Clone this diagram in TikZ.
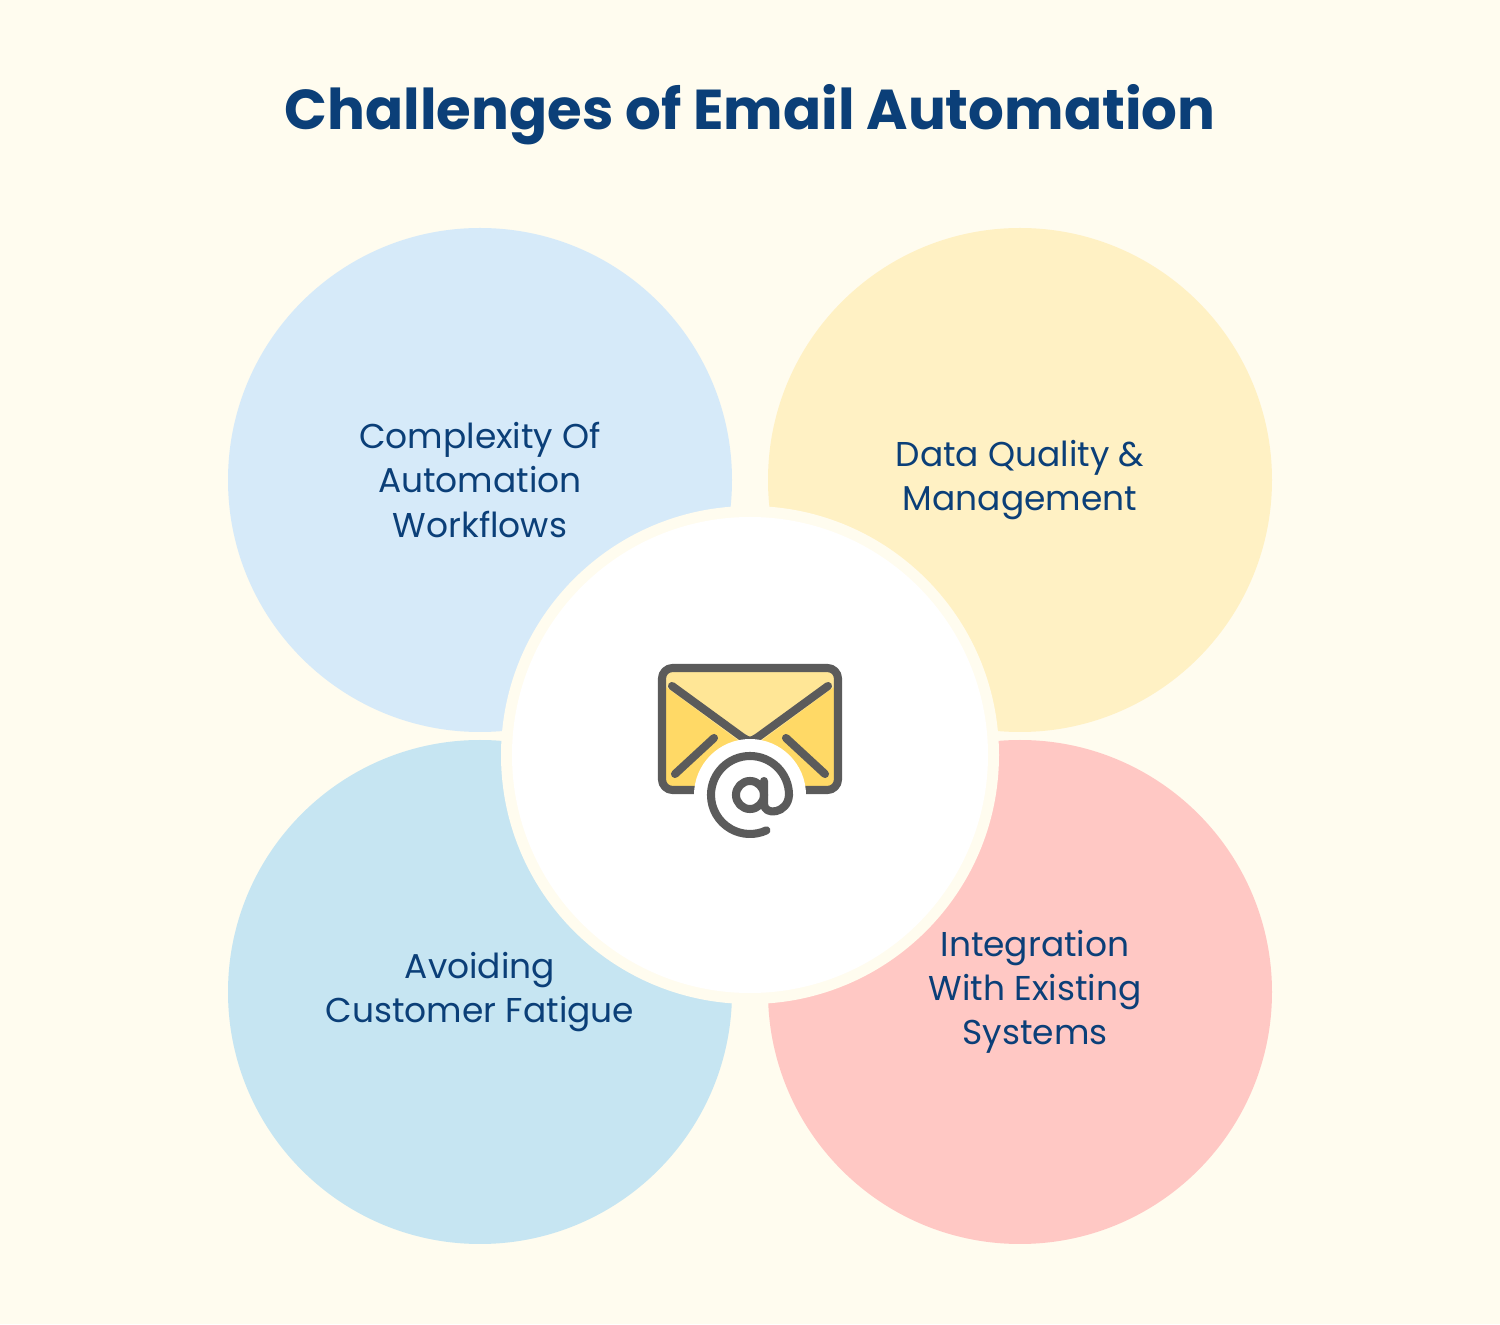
\documentclass[tikz,border=0pt]{standalone}
\usepackage{fontspec}
\setmainfont{Poppins}
\usepackage{xcolor}
\definecolor{bgcream}{HTML}{FFFCEF}
\definecolor{titleblue}{HTML}{0B3F78}
\definecolor{blueA}{HTML}{D6EAF9}
\definecolor{yellowA}{HTML}{FFF1C4}
\definecolor{blueB}{HTML}{C6E5F2}
\definecolor{redA}{HTML}{FFC8C4}
\definecolor{icongray}{HTML}{5B5B5B}
\definecolor{iconyellow}{HTML}{FFD966}
\definecolor{iconlight}{HTML}{FFE696}
\tikzset{
  petal/.style={circle,minimum size=5.04cm,inner sep=0pt},
  petaltext/.style={align=center,text=titleblue,font=\fontsize{9.8}{12.6}\selectfont},
  iconline/.style={draw=icongray,line width=2.3pt,line cap=round,line join=round}
}
\begin{document}
\begin{tikzpicture}
  \fill[bgcream] (0,0) rectangle (15,13.24);
  \useasboundingbox (0,0) rectangle (15,13.24);
  \node[font=\bfseries\fontsize{16}{18}\selectfont,text=titleblue] (title) at (7.5,12.09) {Challenges of Email Automation};
  % four petals
  \node[petal,fill=blueA] (tl) at (4.8,8.44) {};
  \node[petal,fill=yellowA] (tr) at (10.2,8.44) {};
  \node[petal,fill=blueB] (bl) at (4.8,3.32) {};
  \node[petal,fill=redA] (br) at (10.2,3.32) {};
  % centre
  \node[circle,fill=bgcream,minimum size=4.98cm,inner sep=0pt] (ring) at (7.5,5.69) {};
  \node[circle,fill=white,minimum size=4.76cm,inner sep=0pt] (hub) at (7.5,5.69) {};
  \node[petaltext] (tltext) at (4.8,8.44) {Complexity Of\\Automation\\Workflows};
  \node[petaltext] (trtext) at (10.2,8.44) {Data Quality \&\\Management};
  \node[petaltext] (bltext) at (4.8,3.32) {Avoiding\\Customer Fatigue};
  \node[petaltext] (brtext) at (10.35,3.32) {Integration\\With Existing\\Systems};
  % envelope icon
  \begin{scope}
    \clip[rounded corners=3pt] (6.62,5.34) rectangle (8.38,6.56);
    \fill[iconyellow] (6.62,5.34) rectangle (8.38,6.56);
    \fill[iconlight] (6.62,6.56) -- (6.62,6.40) -- (7.5,5.75) -- (8.38,6.40) -- (8.38,6.56) -- cycle;
  \end{scope}
  \draw[iconline,rounded corners=3pt] (6.62,5.34) rectangle (8.38,6.56);
  \draw[iconline] (6.72,6.38) -- (7.42,5.87) .. controls (7.5,5.82) .. (7.58,5.87) -- (8.28,6.38);
  \draw[iconline] (6.75,5.50) -- (7.14,5.86);
  \draw[iconline] (8.25,5.50) -- (7.86,5.86);
  \fill[white] (7.5,5.29) circle (0.56);
  \draw[iconline] (7.5,5.29) circle (0.14);
  \draw[iconline] (7.64,5.43) -- (7.64,5.20) .. controls (7.64,5.08) and (7.88,5.10) .. (7.89,5.29)
    arc (0:295:0.39);
\end{tikzpicture}
\end{document}
